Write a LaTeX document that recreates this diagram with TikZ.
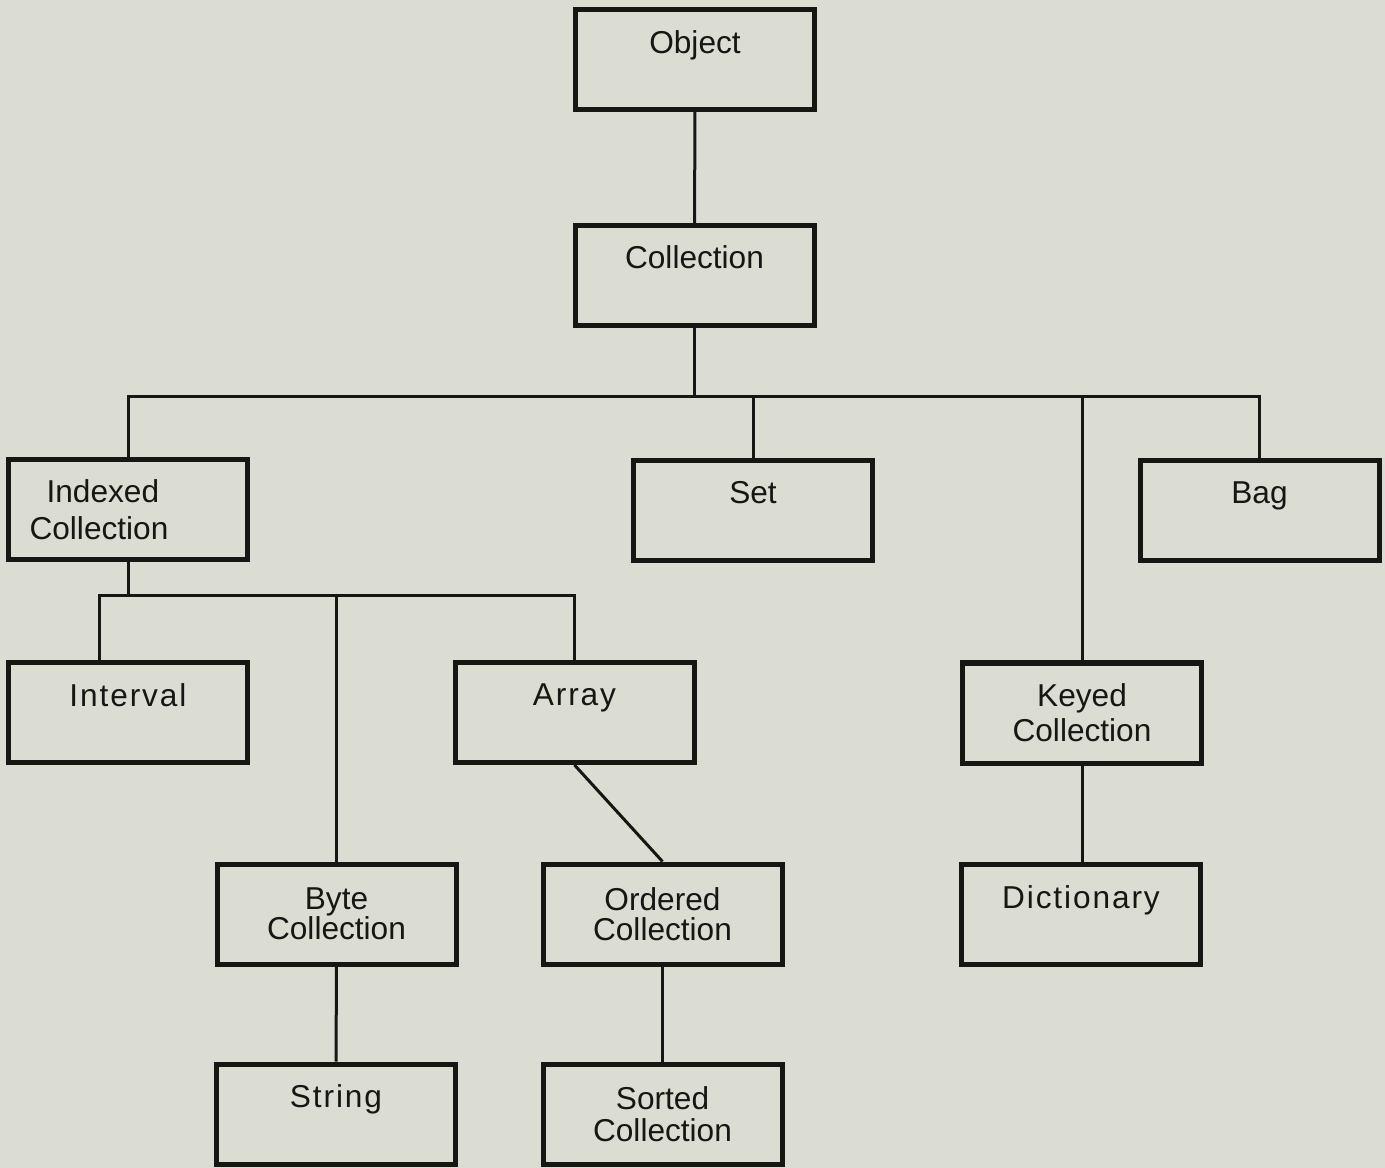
\documentclass[tikz,border=0pt]{standalone}
\usepackage{fontspec}
\setmainfont{Liberation Sans}
\usetikzlibrary{positioning}
\definecolor{paper}{RGB}{220,221,210}
\definecolor{ink}{RGB}{22,22,20}
\newcommand\tracked[1]{{\addfontfeature{LetterSpace=6}#1}}

\begin{document}
\begin{tikzpicture}[font=\fontsize{18}{20}\selectfont,
  bx/.style={draw=ink,text=ink,line width=0.1cm,align=center,minimum width=4.78cm,minimum height=2.0cm,inner sep=2pt},
  ln/.style={draw=ink,line width=0.06cm}]
  \fill[paper](0,0)rectangle(27.7,-23.36);
  \useasboundingbox(0,0)rectangle(27.7,-23.36);
  % top of the tree
  \node[bx](obj) at (13.9,-1.19){Object\\\mbox{}};
  \node[bx](coll) at (13.89,-5.51){Collection\\[1pt]\mbox{}};
  % first level
  \node[bx,align=left](idx) at (2.56,-10.2){\hspace*{0.34cm}Indexed\\[1pt]Collection\hspace*{1.16cm}};
  \node[bx](set) at (15.06,-10.21){Set\\\mbox{}};
  \node[bx](bag) at (25.19,-10.21){Bag\\\mbox{}};
  % second level
  \node[bx](intv) at (2.56,-14.25){\tracked{Interval}\\\mbox{}};
  \node[bx](arr) at (11.49,-14.25){\tracked{Array}\\\mbox{}};
  \node[bx](keyed) at (21.64,-14.26){Keyed\\Collection};
  % third and fourth level
  \node[bx](byte) at (6.73,-18.28){Byte\\[-3pt]Collection};
  \node[bx](ord) at (13.25,-18.28){Ordered\\[-3pt]Collection};
  \node[bx](dict) at (21.62,-18.29){\tracked{Dictionary}\\\mbox{}};
  \node[bx](str) at (6.72,-22.28){\tracked{String}\\\mbox{}};
  \node[bx](sort) at (13.25,-22.28){Sorted\\[-2pt]Collection};
  % connectors
  \coordinate(busa) at (13.94,-7.94);
  \coordinate(busb) at (1.98,-11.92);
  \draw[ln](obj)--(coll);
  \draw[ln](coll.south)--(coll.south|-busa);
  \draw[ln](idx.north)|-(busa)-|(bag.north);
  \draw[ln](set.north)--(set.north|-busa);
  \draw[ln](keyed.north)--(keyed.north|-busa);
  \draw[ln](idx.south)--(idx.south|-busb);
  \draw[ln](busb|-intv.north)--(busb)-|(arr.north);
  \draw[ln](byte.north)--(byte.north|-busb);
  \draw[ln](arr.south)--(ord.north);
  \draw[ln](byte)--(str);\draw[ln](ord)--(sort);
  \draw[ln](keyed.south)--(keyed.south|-dict.north);
\end{tikzpicture}
\end{document}
